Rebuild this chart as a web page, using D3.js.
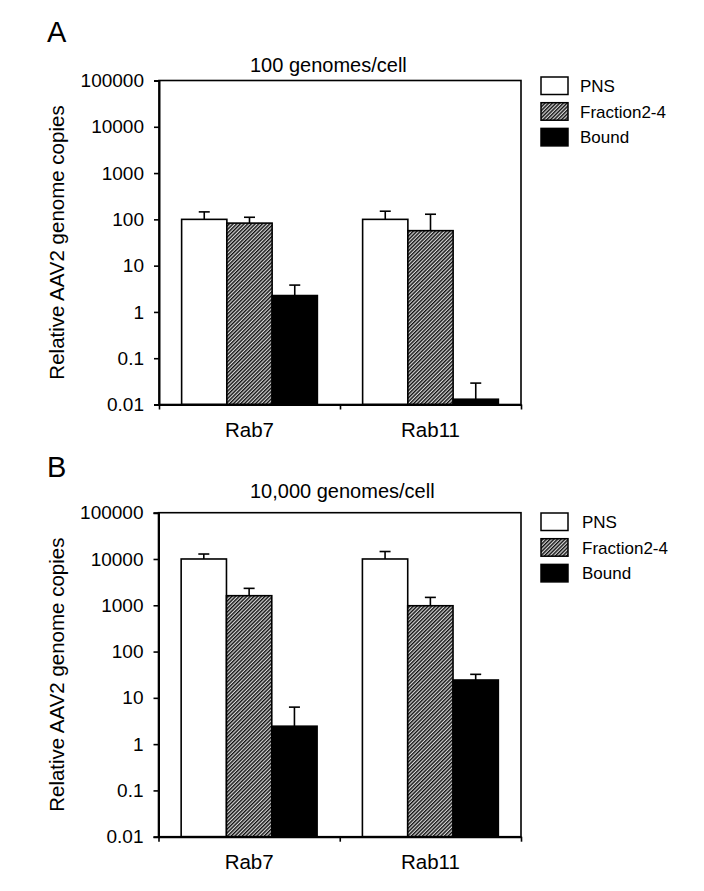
<!DOCTYPE html>
<html>
<head>
<meta charset="utf-8">
<script src="https://cdn.jsdelivr.net/npm/d3@7"></script>
<style>
  body { margin: 0; background: #fff; }
  text { font-family: "Liberation Sans", Arial, Helvetica, sans-serif; fill: #000; }
</style>
</head>
<body>
<script>
// data
var groups = ["Rab7", "Rab11"];
var series = ["PNS", "Fraction2-4", "Bound"];
var yTicks = [0.01, 0.1, 1, 10, 100, 1000, 10000, 100000];

// panel A, 100 genomes/cell
var pnsA = [100, 100];
var fracA = [83, 57];
var boundA = [2.26, 0.013];
// top of error bars
var pnsErrA = [145, 150];
var fracErrA = [111, 129];
var boundErrA = [3.8, 0.029];

// panel B, 10,000 genomes/cell
var pnsB = [10000, 10000];
var fracB = [1610, 977];
var boundB = [2.44, 24.3];
var pnsErrB = [12800, 14500];
var fracErrB = [2320, 1480];
var boundErrB = [6.3, 32.2];

var width = 704, height = 891;

var svg = d3.select("body").append("svg")
    .attr("width", width)
    .attr("height", height);

// hatch for Fraction2-4
var defs = svg.append("defs");
var pat = defs.append("pattern")
    .attr("id", "hatch")
    .attr("patternUnits", "userSpaceOnUse")
    .attr("width", 2.6).attr("height", 2.6)
    .attr("patternTransform", "rotate(45)");
pat.append("rect").attr("width", 2.6).attr("height", 2.6).attr("fill", "#d8d8d8");
pat.append("rect").attr("width", 1.4).attr("height", 2.6).attr("fill", "#111");

var fills = ["#fff", "url(#hatch)", "#000"];

function drawPanel(p) {
    var g = svg.append("g");
    var left = p.left, right = 521, top = p.top, bottom = p.top + 324;

    var x = d3.scaleBand().domain(groups).range([left, right]);
    var xSub = d3.scaleBand().domain(series).range([0, x.bandwidth()])
        .paddingInner(0).paddingOuter(0.5);
    var y = d3.scaleLog().domain([0.01, 100000]).range([bottom, top]);

    // panel letter and title
    g.append("text").attr("x", 47).attr("y", p.letterY)
        .style("font-size", "29px").text(p.letter);
    g.append("text").attr("x", 250).attr("y", p.titleY)
        .style("font-size", "20px").text(p.title);

    // y label
    g.append("text")
        .attr("transform", "translate(64," + ((top + bottom) / 2) + ") rotate(-90)")
        .attr("text-anchor", "middle")
        .style("font-size", "20.5px")
        .text("Relative AAV2 genome copies");

    // bars
    var rows = [];
    groups.forEach(function (grp, i) {
        series.forEach(function (s, j) {
            rows.push({ grp: grp, s: s, j: j, v: p.vals[j][i], e: p.errs[j][i] });
        });
    });

    g.selectAll(".bar").data(rows).enter().append("rect")
        .attr("x", function (d) { return x(d.grp) + xSub(d.s); })
        .attr("y", function (d) { return y(d.v); })
        .attr("width", xSub.bandwidth())
        .attr("height", function (d) { return bottom - y(d.v); })
        .attr("fill", function (d) { return fills[d.j]; })
        .attr("stroke", "#000")
        .attr("stroke-width", 1.6);

    // error bars, upper only
    var eb = g.selectAll(".err").data(rows).enter().append("g")
        .attr("stroke", "#000").attr("stroke-width", 1.6);
    eb.append("line")
        .attr("x1", function (d) { return x(d.grp) + xSub(d.s) + xSub.bandwidth() / 2; })
        .attr("x2", function (d) { return x(d.grp) + xSub(d.s) + xSub.bandwidth() / 2; })
        .attr("y1", function (d) { return y(d.v); })
        .attr("y2", function (d) { return y(d.e); });
    eb.append("line")
        .attr("x1", function (d) { return x(d.grp) + xSub(d.s) + xSub.bandwidth() / 2 - 5.5; })
        .attr("x2", function (d) { return x(d.grp) + xSub(d.s) + xSub.bandwidth() / 2 + 5.5; })
        .attr("y1", function (d) { return y(d.e); })
        .attr("y2", function (d) { return y(d.e); });

    // frame
    g.append("rect").attr("x", left).attr("y", top)
        .attr("width", right - left).attr("height", bottom - top)
        .attr("fill", "none").attr("stroke", "#000").attr("stroke-width", 1.6);

    // y axis
    var yAxis = d3.axisLeft(y).tickValues(yTicks).tickSize(5).tickPadding(10)
        .tickFormat(function (d) { return d < 1 ? String(d) : d3.format("d")(d); });
    var ya = g.append("g").attr("transform", "translate(" + left + ",0)").call(yAxis);
    ya.select(".domain").attr("stroke-width", 2);
    ya.selectAll(".tick line").attr("stroke-width", 1.6);
    ya.selectAll("text").style("font-size", "19px")
        .style("font-family", "'Liberation Sans', Arial, sans-serif");

    // x axis: category labels
    var xa = g.append("g").attr("transform", "translate(0," + bottom + ")")
        .call(d3.axisBottom(x).tickSize(0).tickPadding(18));
    xa.select(".domain").attr("stroke-width", 2);
    xa.selectAll("text").style("font-size", "20.5px")
        .style("font-family", "'Liberation Sans', Arial, sans-serif");

    // x axis: ticks between categories
    var xEdge = d3.scaleLinear().domain([0, groups.length]).range([left, right]);
    var xb = g.append("g").attr("transform", "translate(0," + bottom + ")")
        .call(d3.axisBottom(xEdge).tickValues(d3.range(groups.length + 1))
            .tickSize(5).tickFormat(""));
    xb.select(".domain").remove();
    xb.selectAll(".tick line").attr("stroke-width", 1.6);

    // legend
    var lg = g.append("g");
    series.forEach(function (s, j) {
        var ly = p.legendY + j * 25.7;
        lg.append("rect").attr("x", 541).attr("y", ly)
            .attr("width", 27).attr("height", 17.5)
            .attr("fill", fills[j]).attr("stroke", "#000").attr("stroke-width", 1.5);
        lg.append("text").attr("x", p.legendTextX).attr("y", ly + 8.75)
            .attr("dy", "0.36em").style("font-size", "17px").text(s);
    });
}

drawPanel({
    letter: "A", letterY: 42, title: "100 genomes/cell", titleY: 72,
    left: 159, top: 80.5, legendY: 77, legendTextX: 580,
    vals: [pnsA, fracA, boundA], errs: [pnsErrA, fracErrA, boundErrA]
});

drawPanel({
    letter: "B", letterY: 477, title: "10,000 genomes/cell", titleY: 498,
    left: 158.5, top: 512.7, legendY: 513, legendTextX: 582,
    vals: [pnsB, fracB, boundB], errs: [pnsErrB, fracErrB, boundErrB]
});
</script>
</body>
</html>
